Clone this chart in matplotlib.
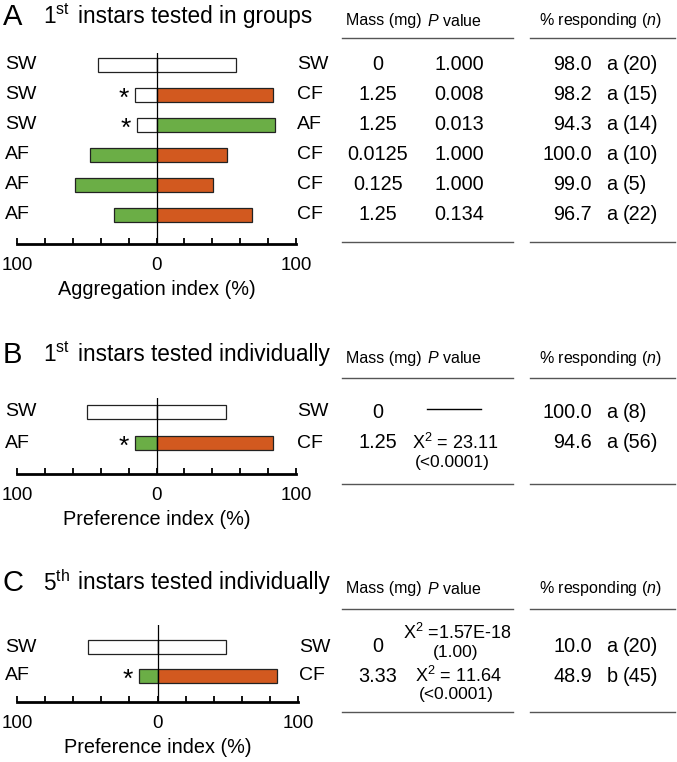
import matplotlib

matplotlib.use("Agg")
import matplotlib.pyplot as plt
from matplotlib.transforms import blended_transform_factory

plt.rcParams["font.family"] = ["Liberation Sans", "DejaVu Sans"]
plt.rcParams["mathtext.fontset"] = "custom"
plt.rcParams["mathtext.rm"] = "Liberation Sans"
plt.rcParams["mathtext.it"] = "Liberation Sans:italic"

W, H = 677, 762

# ---- data ----
A_left_labels = ["SW", "SW", "SW", "AF", "AF", "AF"]
A_right_labels = ["SW", "CF", "AF", "CF", "CF", "CF"]
A_left = [42.2, 15.5, 14.3, 48.0, 58.5, 30.5]
A_right = [56.8, 83.8, 84.7, 50.6, 40.3, 68.5]
A_sig = [False, True, True, False, False, False]
A_mass = ["0", "1.25", "1.25", "0.0125", "0.125", "1.25"]
A_p = ["1.000", "0.008", "0.013", "1.000", "1.000", "0.134"]
A_resp = ["98.0", "98.2", "94.3", "100.0", "99.0", "96.7"]
A_grp = ["a", "a", "a", "a", "a", "a"]
A_n = ["(20)", "(15)", "(14)", "(10)", "(5)", "(22)"]

B_left_labels = ["SW", "AF"]
B_right_labels = ["SW", "CF"]
B_left = [49.9, 15.5]
B_right = [50.1, 83.8]
B_sig = [False, True]
B_mass = ["0", "1.25"]
B_chi = [None, "23.11"]
B_pval = [None, "(<0.0001)"]
B_resp = ["100.0", "94.6"]
B_grp = ["a", "a"]
B_n = ["(8)", "(56)"]

C_left_labels = ["SW", "AF"]
C_right_labels = ["SW", "CF"]
C_left = [49.8, 13.5]
C_right = [48.9, 85.4]
C_sig = [False, True]
C_mass = ["0", "3.33"]
C_chi = ["1.57E-18", "11.64"]
C_pval = ["(1.00)", "(<0.0001)"]
C_resp = ["10.0", "48.9"]
C_grp = ["a", "b"]
C_n = ["(20)", "(45)"]

colors = {"SW": "white", "CF": "#D2591F", "AF": "#6BAE46"}

fig = plt.figure(figsize=(W / 100, H / 100), dpi=100)


def fx(x):
    return x / W


def fy(y):
    return 1 - y / H


def bar_panel(x0, x1, row0, step, top, bottom, left, right, llab, rlab, sig, xlabel):
    n = len(left)
    ymin = (top - row0) / step
    ymax = (bottom - row0) / step
    ax = fig.add_axes([fx(x0), fy(bottom), (x1 - x0) / W, (bottom - top) / H])
    ax.set_xlim(-100, 100)
    ax.set_ylim(ymax, ymin)
    ys = list(range(n))
    bh = 14 / step
    ax.barh(ys, [-v for v in left], height=bh,
            color=[colors[l] for l in llab], edgecolor="#222222", linewidth=0.9, zorder=2)
    ax.barh(ys, right, height=bh,
            color=[colors[r] for r in rlab], edgecolor="#222222", linewidth=0.9, zorder=2)
    ax.axvline(0, color="black", lw=0.9, zorder=3)
    for s in ["left", "top", "right"]:
        ax.spines[s].set_visible(False)
    ax.spines["bottom"].set_linewidth(2.0)
    ax.set_yticks([])
    ax.set_xticks([-100, 0, 100])
    ax.set_xticklabels(["100", "0", "100"], fontsize=13.5)
    ax.set_xticks(range(-80, 100, 20), minor=True)
    ax.tick_params(axis="x", which="both", direction="in", length=4, width=1.3, pad=9)
    ax.set_xlabel(xlabel, fontsize=14.3, labelpad=5)
    tr = blended_transform_factory(fig.transFigure, ax.transData)
    for i in range(n):
        ax.text(fx(5), i, llab[i], transform=tr, fontsize=14, ha="left", va="center")
        ax.text(fx(x1 + 1), i, rlab[i], transform=tr, fontsize=14, ha="left", va="center")
        if sig[i]:
            ax.annotate("*", (-left[i] - 8, i), xytext=(0, -8), textcoords="offset points",
                        ha="center", va="baseline", fontsize=19)
    return ax, tr


def title(y, letter, num, sup, text):
    fig.text(fx(3), fy(y), letter, fontsize=21, ha="left", va="center")
    fig.text(fx(43), fy(y), num + r"$^{\mathrm{" + sup + "}}$",
             fontsize=16.3, ha="left", va="center")
    fig.text(fx(78), fy(y), text, fontsize=16.3, ha="left", va="center")


def header(y_head, y_line, y_bottom):
    fig.text(fx(346), fy(y_head), "Mass (mg)", fontsize=11.5, ha="left", va="center")
    fig.text(fx(427), fy(y_head), "$P$ value", fontsize=11.5, ha="left", va="center")
    fig.text(fx(539), fy(y_head), "% responding ($n$)", fontsize=11.5, ha="left", va="center")
    for y in (y_line, y_bottom):
        fig.add_artist(plt.Line2D([fx(342), fx(513)], [fy(y), fy(y)], color="#555555", lw=1.0))
        fig.add_artist(plt.Line2D([fx(530), fx(675)], [fy(y), fy(y)], color="#555555", lw=1.0))


def resp_cols(tr, resp, grp, nn, rows):
    for i, r in enumerate(rows):
        fig.text(fx(592), r, resp[i], transform=tr, fontsize=14.3, ha="right", va="center")
        fig.text(fx(612), r, grp[i], transform=tr, fontsize=14.3, ha="center", va="center")
        fig.text(fx(623), r, nn[i], transform=tr, fontsize=14.3, ha="left", va="center")


# ---- panel A ----
title(17, "A", "1", "st", "instars tested in groups")
axA, trA = bar_panel(17, 296, 64.5, 30, 53, 244, A_left, A_right, A_left_labels,
                     A_right_labels, A_sig, "Aggregation index (%)")
header(21, 38, 242)
for i in range(len(A_mass)):
    fig.text(fx(378), i, A_mass[i], transform=trA, fontsize=14.3, ha="center", va="center")
    fig.text(fx(459), i, A_p[i], transform=trA, fontsize=14.3, ha="center", va="center")
resp_cols(trA, A_resp, A_grp, A_n, range(len(A_mass)))

# ---- panel B ----
title(355, "B", "1", "st", "instars tested individually")
axB, trB = bar_panel(17, 296, 412, 31, 398, 474, B_left, B_right, B_left_labels,
                     B_right_labels, B_sig, "Preference index (%)")
header(358, 378, 484)
for i in range(len(B_mass)):
    fig.text(fx(378), i, B_mass[i], transform=trB, fontsize=14.3, ha="center", va="center")
    if B_chi[i] is None:
        fig.add_artist(plt.Line2D([fx(427), fx(481)], [fy(409), fy(409)], color="black", lw=1.0))
    else:
        fig.text(fx(455), i, "Χ$^2$ = " + B_chi[i], transform=trB, fontsize=13,
                 ha="center", va="center")
        fig.text(fx(452), i + 20 / 31, B_pval[i], transform=trB, fontsize=12.5,
                 ha="center", va="center")
resp_cols(trB, B_resp, B_grp, B_n, range(len(B_mass)))

# ---- panel C ----
title(583, "C", "5", "th", "instars tested individually")
axC, trC = bar_panel(17, 298, 647, 29, 625, 702, C_left, C_right, C_left_labels,
                     C_right_labels, C_sig, "Preference index (%)")
header(589, 609, 712)
chi_rows = [-14 / 29, 1]
p_rows = [6 / 29, 1 + 19 / 29]
chi_fmt = ["Χ$^2$ =", "Χ$^2$ = "]
for i in range(len(C_mass)):
    fig.text(fx(378), i, C_mass[i], transform=trC, fontsize=14.3, ha="center", va="center")
    fig.text(fx(458), chi_rows[i], chi_fmt[i] + C_chi[i], transform=trC, fontsize=13,
             ha="center", va="center")
    fig.text(fx(456), p_rows[i], C_pval[i], transform=trC, fontsize=12.5,
             ha="center", va="center")
resp_cols(trC, C_resp, C_grp, C_n, range(len(C_mass)))

fig.savefig("out.png", dpi=100)
